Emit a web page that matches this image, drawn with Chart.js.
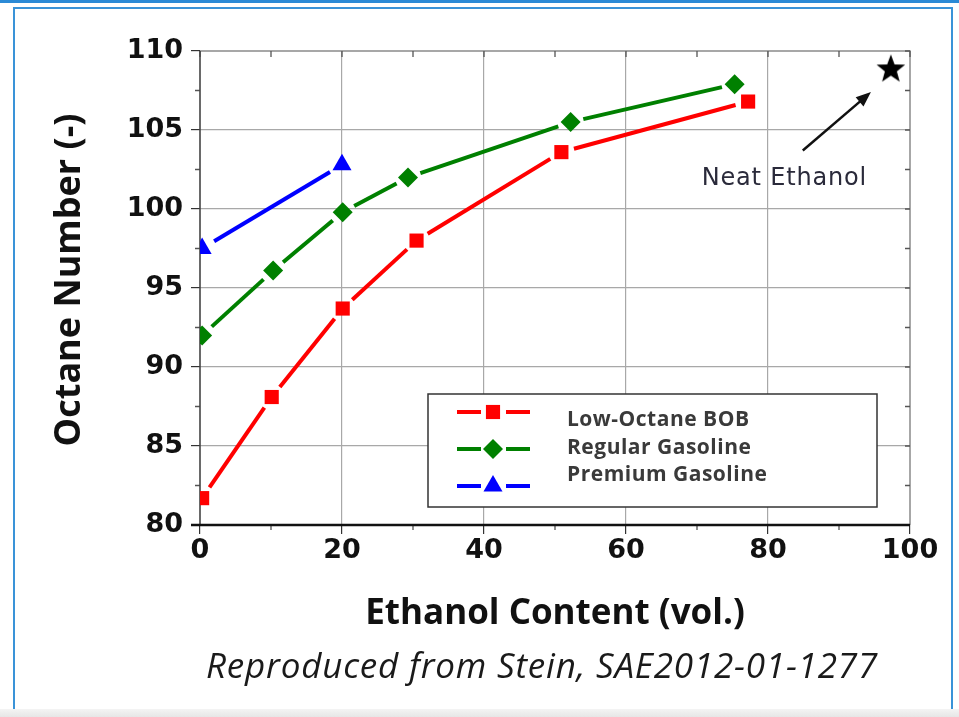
<!DOCTYPE html>
<html>
<head>
<meta charset="utf-8">
<script src="https://cdn.jsdelivr.net/npm/chart.js@4.4.0/dist/chart.umd.min.js"></script>
<style>
  html, body { margin: 0; padding: 0; background: #fff; }
  #page { position: relative; width: 959px; height: 717px; overflow: hidden; }
  #topLine { position: absolute; left: 0; top: 0; width: 959px; height: 3px; background: #2b8ad6; }
  #box { position: absolute; left: 13px; top: 7px; width: 940px; height: 730px; border: 2px solid #3a93d8; box-sizing: border-box; }
  #shade { position: absolute; left: 0; top: 709px; width: 959px; height: 8px; background: linear-gradient(#f4f4f4, #e6e6e6); }
  canvas { position: absolute; left: 0; top: 0; }
</style>
</head>
<body>
<div id="page">
  <div id="topLine"></div>
  <div id="box"></div>
  <div id="shade"></div>
  <canvas id="octaneChart" width="959" height="717"></canvas>
</div>
<script>
// values
const lowOctaneX = [0.3, 10.1, 20.1, 30.5, 50.9, 77.2];
const lowOctaneY = [81.7, 88.1, 93.7, 98.0, 103.6, 106.8];
const regularX = [0.3, 10.3, 20.1, 29.3, 52.2, 75.3];
const regularY = [92.0, 96.1, 99.8, 102.0, 105.5, 107.9];
const premiumX = [0.3, 20.0];
const premiumY = [97.5, 102.8];
const neatEthanolX = [97.3];
const neatEthanolY = [108.9];

const seriesNames = ["Low-Octane BOB", "Regular Gasoline", "Premium Gasoline"];
const xTicks = [0, 20, 40, 60, 80, 100];
const yTicks = [80, 85, 90, 95, 100, 105, 110];
const xMinorTicks = [10, 30, 50, 70, 90];
const yMinorTicks = [82.5, 87.5, 92.5, 97.5, 102.5, 107.5];

// annotation: arrow pointing at neat ethanol star
const arrowFrom = [84.9, 103.7];
const arrowTo = [94.5, 107.4];
const arrowLabel = "Neat Ethanol";
const arrowLabelAt = [82.3, 101.9];
const caption = "Reproduced from Stein, SAE2012-01-1277";

function pairs(xs, ys) {
    return xs.map((x, i) => ({x: x, y: ys[i]}));
}

function makeStar() {
    const c = document.createElement("canvas");
    c.width = 32;
    c.height = 32;
    const g = c.getContext("2d");
    g.beginPath();
    for (let i = 0; i < 10; i++) {
        const r = i % 2 === 0 ? 15 : 6.3;
        const a = -Math.PI / 2 + i * Math.PI / 5;
        g.lineTo(16 + r * Math.cos(a), 17 + r * Math.sin(a));
    }
    g.closePath();
    g.fillStyle = "#000";
    g.fill();
    return c;
}

// lines that stop short of each marker, like the original plot
const gapLines = {
    id: "gapLines",
    beforeDatasetsDraw(chart) {
        const ctx = chart.ctx;
        chart.data.datasets.forEach((ds, i) => {
            if (!ds.gap) return;
            const pts = chart.getDatasetMeta(i).data;
            ctx.save();
            ctx.strokeStyle = ds.borderColor;
            ctx.lineWidth = ds.lineWidth;
            for (let k = 0; k < pts.length - 1; k++) {
                const a = pts[k], b = pts[k + 1];
                const dx = b.x - a.x, dy = b.y - a.y;
                const len = Math.hypot(dx, dy);
                if (len <= 2 * ds.gap) continue;
                const ux = dx / len, uy = dy / len;
                ctx.beginPath();
                ctx.moveTo(a.x + ux * ds.gap, a.y + uy * ds.gap);
                ctx.lineTo(b.x - ux * ds.gap, b.y - uy * ds.gap);
                ctx.stroke();
            }
            ctx.restore();
        });
    }
};

// frame on top/right, minor ticks, axis lines
const axisBox = {
    id: "axisBox",
    beforeDatasetsDraw(chart) {
        const {ctx, chartArea: a, scales: {x, y}} = chart;
        ctx.save();
        ctx.strokeStyle = "#8a8a8a";
        ctx.lineWidth = 1.5;
        ctx.beginPath();
        ctx.moveTo(a.left, a.top);
        ctx.lineTo(a.right, a.top);
        ctx.lineTo(a.right, a.bottom);
        ctx.stroke();

        ctx.strokeStyle = "#555";
        ctx.lineWidth = 1.3;
        ctx.beginPath();
        xTicks.concat(xMinorTicks).forEach(v => {
            const px = x.getPixelForValue(v);
            ctx.moveTo(px, a.top);
            ctx.lineTo(px, a.top + 6);
        });
        yTicks.concat(yMinorTicks).forEach(v => {
            const py = y.getPixelForValue(v);
            ctx.moveTo(a.right, py);
            ctx.lineTo(a.right - 5, py);
        });
        xMinorTicks.forEach(v => {
            const px = x.getPixelForValue(v);
            ctx.moveTo(px, a.bottom);
            ctx.lineTo(px, a.bottom + 5);
        });
        yMinorTicks.forEach(v => {
            const py = y.getPixelForValue(v);
            ctx.moveTo(a.left, py);
            ctx.lineTo(a.left - 5, py);
        });
        ctx.stroke();

        ctx.strokeStyle = "#444";
        ctx.lineWidth = 1.6;
        ctx.beginPath();
        ctx.moveTo(a.left, a.top);
        ctx.lineTo(a.left, a.bottom);
        ctx.stroke();
        ctx.strokeStyle = "#111";
        ctx.lineWidth = 2.5;
        ctx.beginPath();
        ctx.moveTo(a.left - 9, a.bottom);
        ctx.lineTo(a.right, a.bottom);
        ctx.stroke();
        ctx.restore();
    }
};

// boxed legend inside the plot, arrow note, y title and caption
const extras = {
    id: "extras",
    afterDatasetsDraw(chart) {
        const {ctx, scales: {x, y}} = chart;
        ctx.save();

        // legend
        ctx.fillStyle = "#fff";
        ctx.fillRect(428, 394, 449, 113);
        ctx.strokeStyle = "#333";
        ctx.lineWidth = 1.5;
        ctx.strokeRect(428, 394, 449, 113);
        const markerRows = [412, 449, 486];
        const textRows = [420, 448, 475];
        for (let i = 0; i < 3; i++) {
            const ds = chart.data.datasets[i];
            const ry = markerRows[i];
            ctx.strokeStyle = ds.borderColor;
            ctx.lineWidth = ds.lineWidth;
            ctx.beginPath();
            ctx.moveTo(457, ry); ctx.lineTo(481, ry);
            ctx.moveTo(506, ry); ctx.lineTo(530, ry);
            ctx.stroke();
            ctx.fillStyle = ds.pointBackgroundColor;
            ctx.strokeStyle = ds.pointBackgroundColor;
            Chart.helpers.drawPoint(ctx, {
                pointStyle: ds.pointStyle, radius: ds.pointRadius, rotation: 0, borderWidth: 0
            }, 493, ry);
            ctx.fillStyle = "#3a3a3a";
            ctx.font = "bold 21px 'Open Sans'";
            ctx.letterSpacing = "0.5px";
            ctx.textAlign = "left";
            ctx.textBaseline = "middle";
            ctx.fillText(ds.label, 567, textRows[i]);
        }

        // arrow to the star
        const x0 = x.getPixelForValue(arrowFrom[0]), y0 = y.getPixelForValue(arrowFrom[1]);
        const x1 = x.getPixelForValue(arrowTo[0]), y1 = y.getPixelForValue(arrowTo[1]);
        const ang = Math.atan2(y1 - y0, x1 - x0);
        ctx.strokeStyle = "#111";
        ctx.fillStyle = "#111";
        ctx.lineWidth = 2.5;
        ctx.beginPath();
        ctx.moveTo(x0, y0);
        ctx.lineTo(x1 - 10 * Math.cos(ang), y1 - 10 * Math.sin(ang));
        ctx.stroke();
        ctx.beginPath();
        ctx.moveTo(x1, y1);
        ctx.lineTo(x1 - 15 * Math.cos(ang) + 6 * Math.sin(ang), y1 - 15 * Math.sin(ang) - 6 * Math.cos(ang));
        ctx.lineTo(x1 - 15 * Math.cos(ang) - 6 * Math.sin(ang), y1 - 15 * Math.sin(ang) + 6 * Math.cos(ang));
        ctx.closePath();
        ctx.fill();

        ctx.fillStyle = "#2a2a3a";
        ctx.font = "24px 'DejaVu Sans'";
        ctx.letterSpacing = "0.8px";
        ctx.textAlign = "center";
        ctx.textBaseline = "middle";
        ctx.fillText(arrowLabel, x.getPixelForValue(arrowLabelAt[0]), y.getPixelForValue(arrowLabelAt[1]));

        // y axis title
        ctx.save();
        ctx.translate(70, 280);
        ctx.rotate(-Math.PI / 2);
        ctx.fillStyle = "#111";
        ctx.font = "bold 36px 'Open Sans'";
        ctx.letterSpacing = "0px";
        ctx.fillText("Octane Number (-)", 0, 0);
        ctx.restore();

        // source caption
        ctx.fillStyle = "#1a1a1a";
        ctx.font = "italic 35px 'Open Sans'";
        ctx.letterSpacing = "0.8px";
        ctx.fillText(caption, 542, 668);
        ctx.restore();
    }
};

const chart = new Chart(document.getElementById("octaneChart"), {
    type: "scatter",
    data: {
        datasets: [{
            label: seriesNames[0],
            data: pairs(lowOctaneX, lowOctaneY),
            borderColor: "#ff0000",
            pointBackgroundColor: "#ff0000",
            pointBorderWidth: 0,
            pointStyle: "rect",
            pointRadius: 10,
            lineWidth: 4,
            gap: 13,
            showLine: false
        }, {
            label: seriesNames[1],
            data: pairs(regularX, regularY),
            borderColor: "#008000",
            pointBackgroundColor: "#008000",
            pointBorderWidth: 0,
            pointStyle: "rectRot",
            pointRadius: 10,
            lineWidth: 4,
            gap: 13,
            showLine: false
        }, {
            label: seriesNames[2],
            data: pairs(premiumX, premiumY),
            borderColor: "#0000ff",
            pointBackgroundColor: "#0000ff",
            pointBorderWidth: 0,
            pointStyle: "triangle",
            pointRadius: 11,
            lineWidth: 4,
            gap: 14,
            showLine: false
        }, {
            label: "Neat Ethanol",
            data: pairs(neatEthanolX, neatEthanolY),
            pointStyle: makeStar(),
            showLine: false
        }]
    },
    options: {
        responsive: false,
        animation: false,
        layout: {padding: {left: 0, top: 51, right: 49, bottom: 66}},
        plugins: {
            legend: {display: false},
            tooltip: {enabled: false}
        },
        scales: {
            x: {
                type: "linear",
                min: 0,
                max: 100,
                afterFit: (scale) => { scale.height = 126; },
                afterBuildTicks: (scale) => { scale.ticks = xTicks.map(v => ({value: v})); },
                grid: {
                    color: (c) => (c.tick && (c.tick.value === 0 || c.tick.value === 100)) ? "rgba(0,0,0,0)" : "#a8a8a8",
                    lineWidth: 1.2,
                    tickColor: "#333",
                    tickLength: 9
                },
                border: {display: false},
                ticks: {
                    color: "#111",
                    padding: 1,
                    font: {family: "DejaVu Sans", size: 27, weight: "bold"}
                },
                title: {
                    display: true,
                    text: "Ethanol Content (vol.)",
                    color: "#111",
                    padding: {top: 0, bottom: 16},
                    font: {family: "Open Sans", size: 35, weight: "bold"}
                }
            },
            y: {
                type: "linear",
                min: 80,
                max: 110,
                afterFit: (scale) => { scale.width = 200; },
                afterBuildTicks: (scale) => { scale.ticks = yTicks.map(v => ({value: v})); },
                grid: {
                    color: (c) => (c.tick && (c.tick.value === 80 || c.tick.value === 110)) ? "rgba(0,0,0,0)" : "#a8a8a8",
                    lineWidth: 1.2,
                    tickColor: "#333",
                    tickLength: 9
                },
                border: {display: false},
                ticks: {
                    color: "#111",
                    padding: 8,
                    font: {family: "DejaVu Sans", size: 27, weight: "bold"}
                }
            }
        }
    },
    plugins: [axisBox, gapLines, extras]
});
</script>
</body>
</html>
